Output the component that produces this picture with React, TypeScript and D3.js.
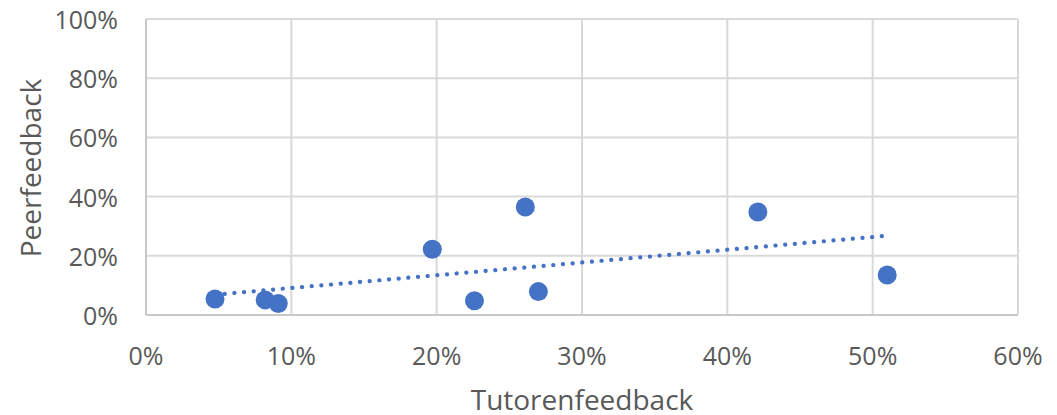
import React from "react";
import * as d3 from "d3";

const tutor = [4.75, 8.2, 9.1, 19.7, 22.6, 26.1, 27.0, 42.1, 51.0];
const peer = [5.4, 5.1, 3.9, 22.2, 4.8, 36.5, 7.9, 34.8, 13.5];
const xTicks = [0, 10, 20, 30, 40, 50, 60];
const yTicks = [0, 20, 40, 60, 80, 100];

const W = 1057, H = 415;
const left = 146, right = 1018, top = 19, bottom = 315;
const FONT = "'Open Sans', sans-serif";

export default function App() {
  const x = d3.scaleLinear().domain([0, 60]).range([left, right]);
  const y = d3.scaleLinear().domain([0, 100]).range([bottom, top]);

  const mx = d3.mean(tutor)!;
  const my = d3.mean(peer)!;
  let sxy = 0, sxx = 0;
  tutor.forEach((t, i) => { sxy += (t - mx) * (peer[i] - my); sxx += (t - mx) ** 2; });
  const slope = sxy / sxx;
  const icpt = my - slope * mx;
  const [x0, x1] = d3.extent(tutor) as [number, number];
  const line = d3.line<number>().x(d => x(d)).y(d => y(icpt + slope * d));

  return (
    <svg width={W} height={H} style={{ position: "absolute", left: 0, top: 0, background: "#fff" }}>
      {xTicks.map(t => (
        <line key={"gx" + t} x1={x(t)} x2={x(t)} y1={top} y2={bottom} stroke="#d9d9d9" strokeWidth={2} />
      ))}
      {yTicks.map(t => (
        <line key={"gy" + t} x1={left} x2={right} y1={y(t)} y2={y(t)} stroke="#d9d9d9" strokeWidth={2} />
      ))}
      <line x1={left} x2={left} y1={top} y2={bottom} stroke="#c8c8c8" strokeWidth={2} />
      <line x1={left} x2={right} y1={bottom} y2={bottom} stroke="#c8c8c8" strokeWidth={2} />
      {xTicks.map(t => (
        <text key={"tx" + t} x={x(t)} y={355} textAnchor="middle" dominantBaseline="central"
          fontFamily={FONT} fontSize={25} fill="#595959">{t}%</text>
      ))}
      {yTicks.map(t => (
        <text key={"ty" + t} x={118} y={y(t)} textAnchor="end" dominantBaseline="central"
          fontFamily={FONT} fontSize={25} fill="#595959">{t}%</text>
      ))}
      {tutor.map((t, i) => (
        <circle key={"p" + i} cx={x(t)} cy={y(peer[i])} r={9.5} fill="#4472c4" />
      ))}
      <path d={line([x0, x1]) || ""} fill="none" stroke="#4472c4" strokeWidth={4.2}
        strokeLinecap="round" strokeDasharray="0.1 9.6" />
      <text x={582} y={399} textAnchor="middle" dominantBaseline="central"
        fontFamily={FONT} fontSize={28} fill="#595959">Tutorenfeedback</text>
      <text transform={`translate(30, 168) rotate(-90)`} textAnchor="middle" dominantBaseline="central"
        fontFamily={FONT} fontSize={28} fill="#595959">Peerfeedback</text>
    </svg>
  );
}
